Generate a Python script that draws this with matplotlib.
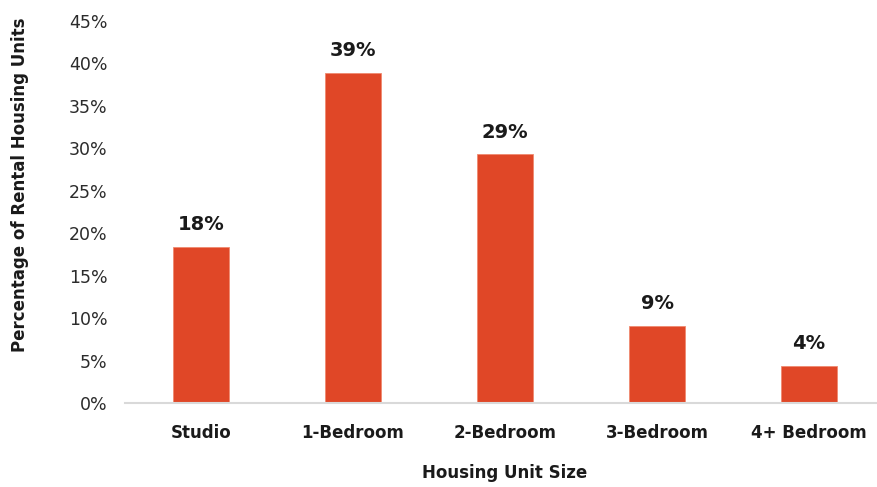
import matplotlib
matplotlib.use("Agg")
import matplotlib.pyplot as plt
from matplotlib.ticker import FuncFormatter, MultipleLocator

categories = ["Studio", "1-Bedroom", "2-Bedroom", "3-Bedroom", "4+ Bedroom"]
shares = [18.4, 38.9, 29.3, 9.1, 4.4]

plt.rcParams["font.family"] = ["DejaVu Sans"]

fig = plt.figure(figsize=(8.77, 4.87), dpi=100)
W, H = 877, 487
left, right, bottom, top = 125, 885, 403, 21
ax = fig.add_axes([left / W, 1 - bottom / H, (right - left) / W, (bottom - top) / H])

bar_color = "#E04727"
x = range(len(categories))
ax.bar(x, shares, width=0.37, color=bar_color, edgecolor="#F08A70", linewidth=0.6, zorder=2)

for xi, v in zip(x, shares):
    ax.annotate(f"{v:.0f}%", (xi, v), xytext=(0, 9), textcoords="offset points",
                ha="center", va="bottom", fontsize=14, fontweight="bold", color="#1a1a1a")

ax.set_xlim(-0.5, len(categories) - 0.5)
ax.set_ylim(0, 45)
ax.yaxis.set_major_locator(MultipleLocator(5))
ax.yaxis.set_major_formatter(FuncFormatter(lambda v, p: f"{v:.0f}%"))

ax.set_xticks(list(x))
ax.set_xticklabels(categories, fontsize=12, fontweight="bold", color="#1a1a1a")
ax.tick_params(axis="y", labelsize=12.5, colors="#2b2b2b", length=0, pad=12.5)
ax.tick_params(axis="x", length=0, pad=15)

for side in ("top", "right", "left"):
    ax.spines[side].set_visible(False)
ax.spines["bottom"].set_color("#D9D9D9")
ax.spines["bottom"].set_linewidth(1.5)

fig.text(505 / W, 1 - 473 / H, "Housing Unit Size", ha="center", va="center",
         fontsize=12, fontweight="bold", color="#1a1a1a")
fig.text(20 / W, 1 - 185 / H, "Percentage of Rental Housing Units", ha="center", va="center",
         rotation=90, fontsize=12, fontweight="bold", color="#1a1a1a")

fig.savefig("out.png", dpi=100)
